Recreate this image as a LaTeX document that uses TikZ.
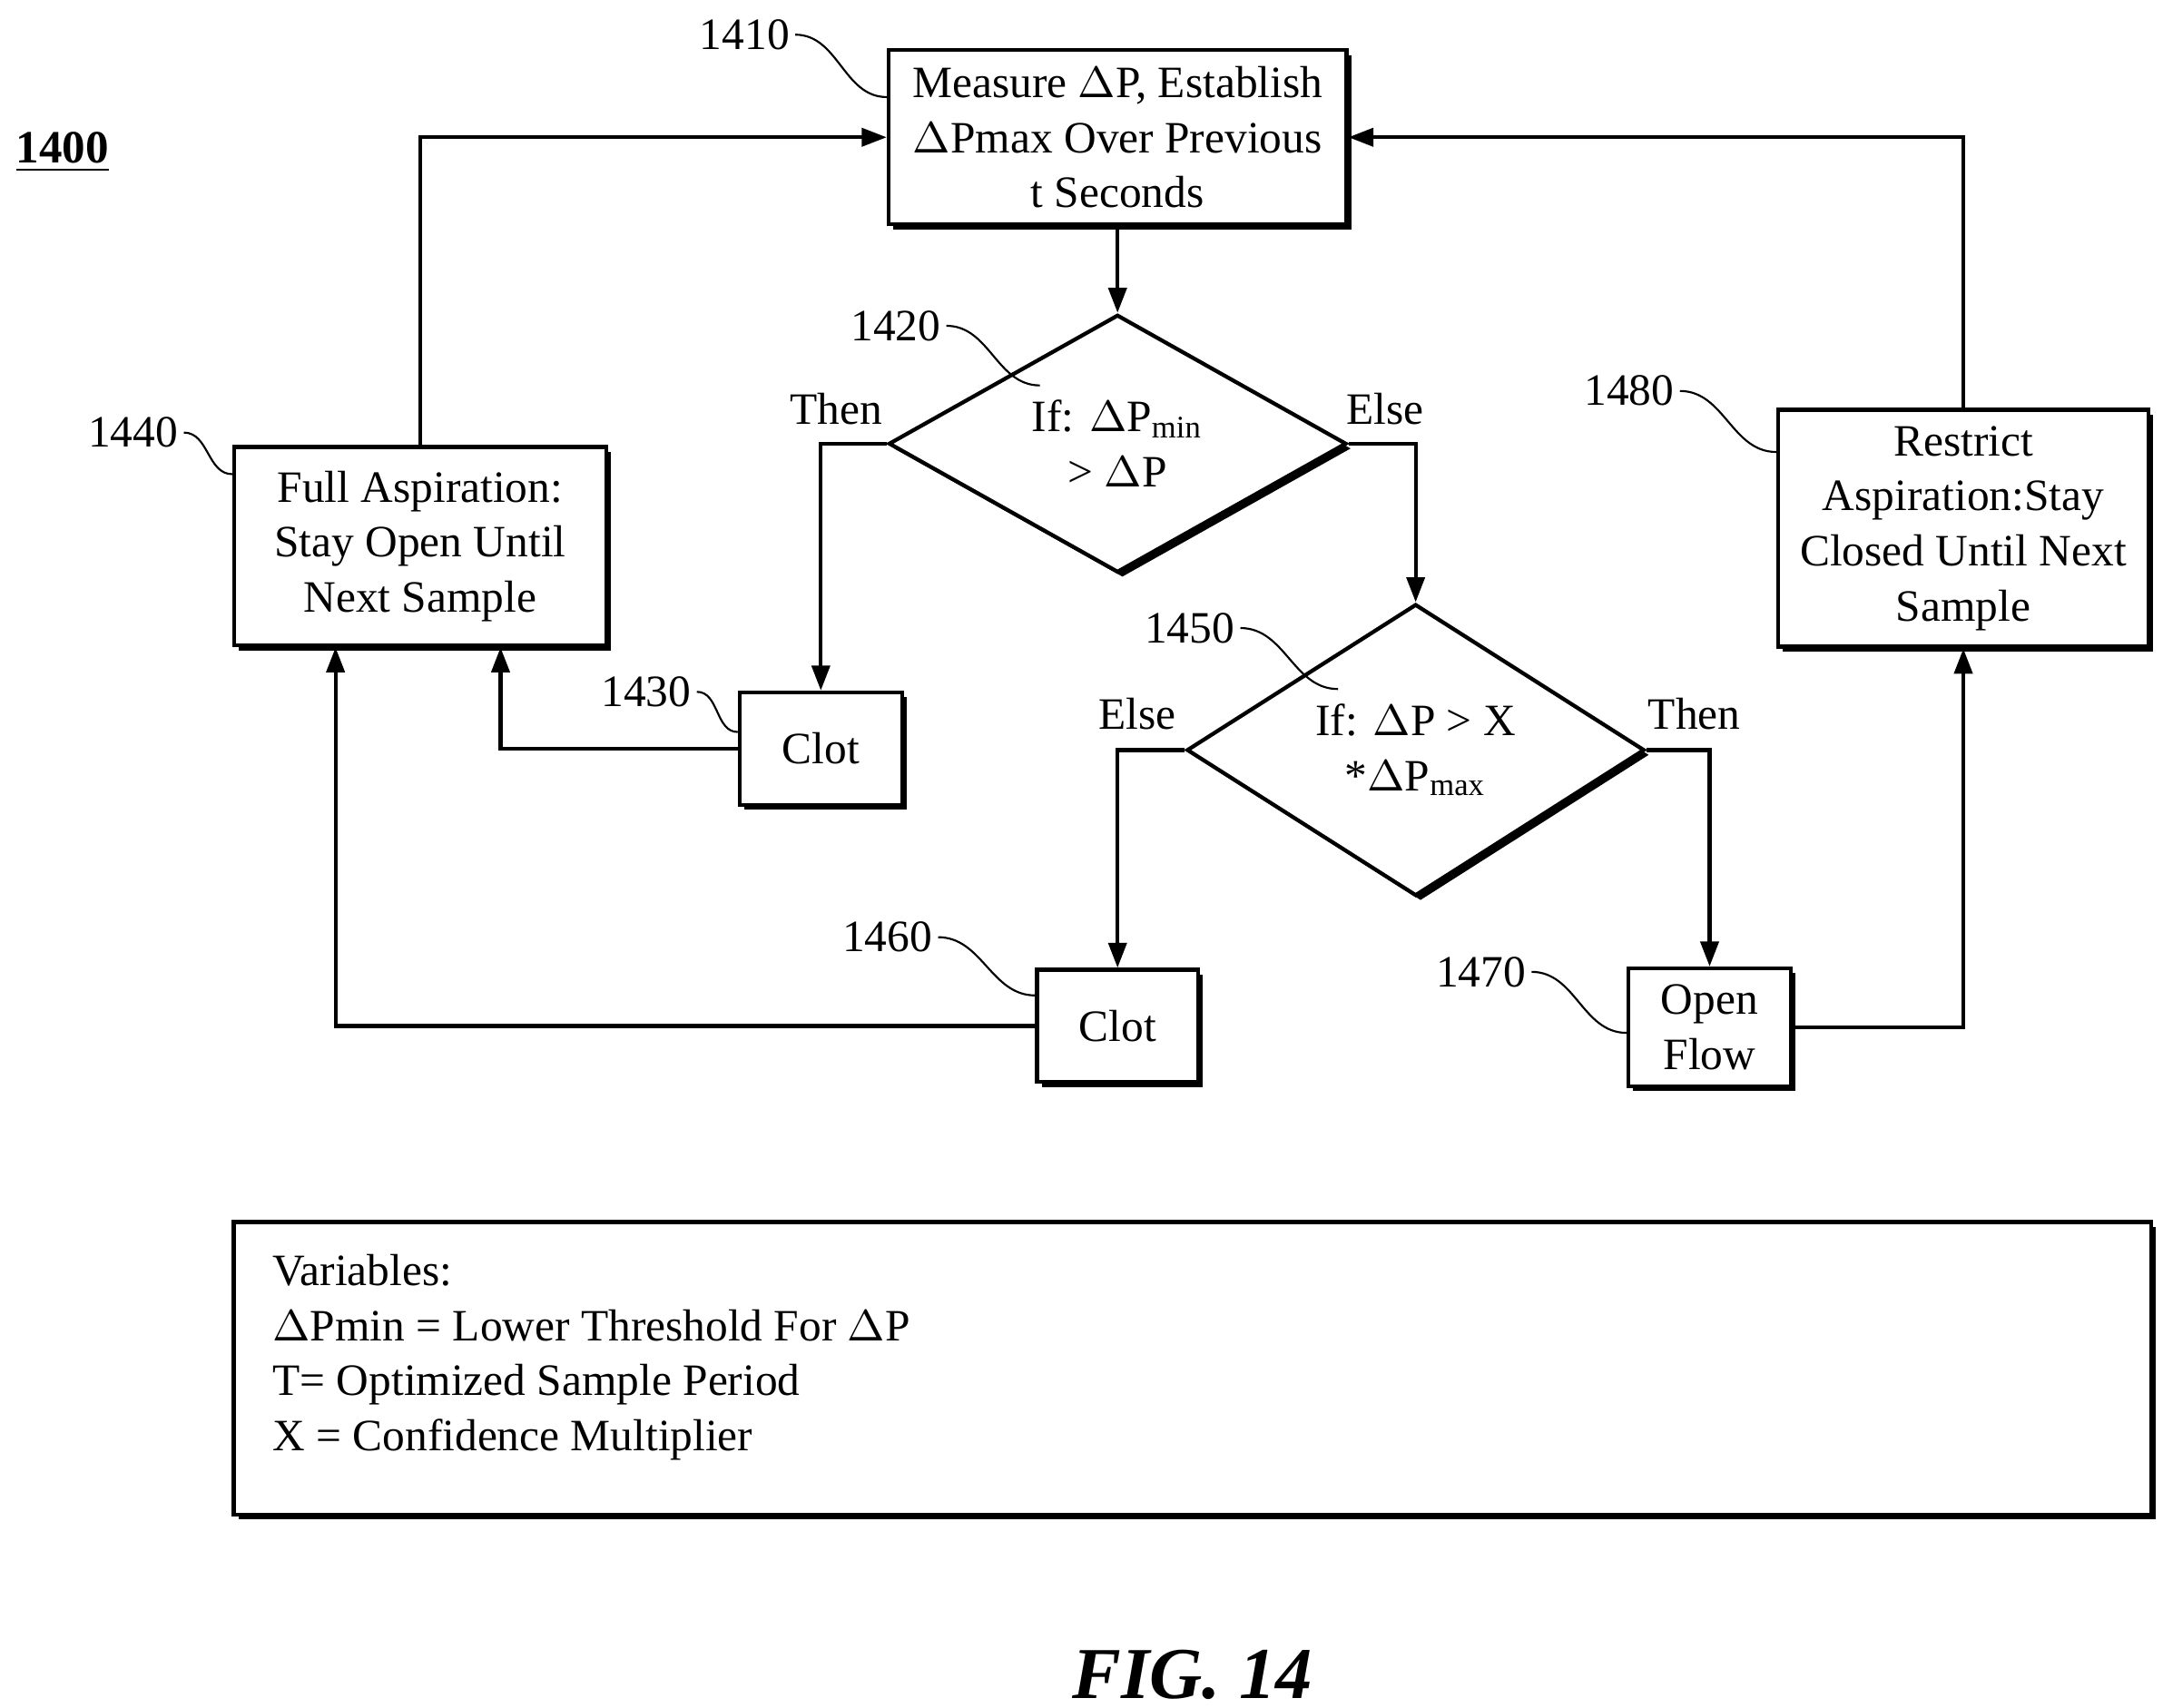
\documentclass[tikz,border=0pt]{standalone}
\usepackage{fontspec}
\setmainfont{Liberation Serif}
\usetikzlibrary{shapes.geometric,shadows,arrows.meta,positioning}
\tikzset{
  box/.style={draw, thick, fill=white, align=center, font=\fontsize{9.2}{11.3}\selectfont,
    drop shadow={shadow xshift=0.035cm, shadow yshift=-0.035cm, opacity=1, fill=black}},
  dia/.style={box, diamond, inner sep=0pt, minimum width=3.3cm, minimum height=1.22cm},
  flow/.style={thick, -{Triangle[length=0.18cm,width=0.13cm]}},
  lead/.style={thin},
  num/.style={font=\fontsize{9.2}{11}\selectfont, inner sep=1pt}
}
\begin{document}
\begin{tikzpicture}[x=0.01cm, y=-0.01cm]
  \useasboundingbox (0,0) rectangle (1560,1232);
  % boxes
  \node[box, minimum width=3.3cm, minimum height=1.22cm] (b1410) at (806,99)
    {Measure $\Delta$P, Establish\\ $\Delta$Pmax Over Previous\\ t Seconds};
  \node[dia] (d1420) at (806,320) {If: $\Delta$P\textsubscript{min}\\ > $\Delta$P};
  \node[box, minimum width=2.68cm, minimum height=1.43cm] (b1440) at (303,394)
    {Full Aspiration:\\ Stay Open Until\\ Next Sample};
  \node[box, minimum width=1.17cm, minimum height=0.81cm] (b1430) at (592,540) {Clot};
  \node[dia] (d1450) at (1021,541) {If: $\Delta$P > X\\ *$\Delta$P\textsubscript{max}};
  \node[box, minimum width=1.16cm, minimum height=0.81cm] (b1460) at (806,740) {Clot};
  \node[box, minimum width=1.17cm, minimum height=0.82cm] (b1470) at (1233,741) {Open\\ Flow};
  \node[box, minimum width=2.67cm, minimum height=1.7cm] (b1480) at (1416,381)
    {Restrict\\ Aspiration:Stay\\ Closed Until Next\\ Sample};
  \node[box, minimum width=13.82cm, minimum height=2.11cm] (vars) at (860,987) {};
  \node[align=left, anchor=north west, font=\fontsize{9.2}{11.3}\selectfont, inner sep=0pt] (vtxt) at (196,904)
    {Variables:\\ $\Delta$Pmin = Lower Threshold For $\Delta$P\\ T= Optimized Sample Period\\ X = Confidence Multiplier};
  % labels
  \node[font=\bfseries\fontsize{9.5}{11}\selectfont] (fig) at (45,110) {\underline{1400}};
  \node[font=\bfseries\itshape\fontsize{15}{17}\selectfont] (cap) at (860,1208) {FIG. 14};
  \node[num] (n1410) at (537,25) {1410};
  \node[num] (n1420) at (646,235) {1420};
  \node[num] (n1440) at (96,312) {1440};
  \node[num] (n1430) at (466,499) {1430};
  \node[num] (n1450) at (858,453) {1450};
  \node[num] (n1460) at (640,676) {1460};
  \node[num] (n1470) at (1068,701) {1470};
  \node[num] (n1480) at (1175,282) {1480};
  \node[num] (t1) at (603,295) {Then};
  \node[num] (e1) at (999,295) {Else};
  \node[num] (e2) at (820,515) {Else};
  \node[num] (t2) at (1222,515) {Then};
  % leaders
  \draw[lead] (n1410.east) to[out=0,in=180] (b1410.west |- 0,70);
  \draw[lead] (n1420.east) to[out=0,in=180] (750,278);
  \draw[lead] (n1440.east) to[out=0,in=180] (b1440.west |- 0,342);
  \draw[lead] (n1430.east) to[out=0,in=180] (b1430.west |- 0,528);
  \draw[lead] (n1450.east) to[out=0,in=180] (965,497);
  \draw[lead] (n1460.east) to[out=0,in=180] (b1460.west |- 0,718);
  \draw[lead] (n1470.east) to[out=0,in=180] (b1470.west |- 0,745);
  \draw[lead] (n1480.east) to[out=0,in=180] (b1480.west |- 0,326);
  % connectors
  \draw[flow] (b1410) -- (d1420);
  \draw[flow] (d1420.west) -| (b1430.north);
  \draw[flow] (d1420.east) -| (d1450.north);
  \draw[flow] (b1430.west) -| (b1440.south -| 361,0);
  \draw[flow] (b1440.north) |- (b1410.west);
  \draw[flow] (d1450.west) -| (b1460.north);
  \draw[flow] (b1460.west) -| (b1440.south -| 242,0);
  \draw[flow] (d1450.east) -| (b1470.north);
  \draw[flow] (b1470.east) -| (b1480.south);
  \draw[flow] (b1480.north) |- (b1410.east);
\end{tikzpicture}
\end{document}
